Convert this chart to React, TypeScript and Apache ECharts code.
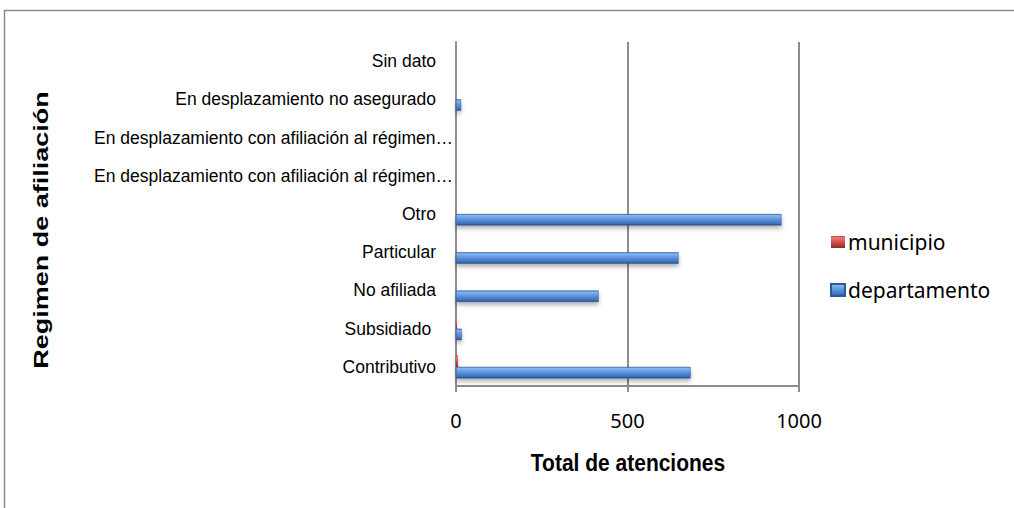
import React, { useEffect, useRef } from "react";
import * as echarts from "echarts";

const categories = [
  "Contributivo",
  "Subsidiado ",
  "No afiliada",
  "Particular",
  "Otro",
  "En desplazamiento con afiliación al régimen contributivo",
  "En desplazamiento con afiliación al régimen subsidiado",
  "En desplazamiento no asegurado",
  "Sin dato",
];
const municipio = [6, 3, 0, 0, 0, 0, 0, 0, 0];
const departamento = [684, 17, 416, 649, 949, 0, 0, 15, 0];
const xTicks = { min: 0, max: 1000, interval: 500 };
const legendNames = ["municipio", "departamento"];
const xTitle = "Total de atenciones";
const yTitle = "Regimen de afiliación";

const blueGrad = new echarts.graphic.LinearGradient(0, 0, 0, 1, [
  { offset: 0, color: "#3d6fb3" },
  { offset: 0.12, color: "#86b6f2" },
  { offset: 0.45, color: "#5e95de" },
  { offset: 0.85, color: "#3f72bb" },
  { offset: 1, color: "#25487e" },
]);
const redGrad = new echarts.graphic.LinearGradient(0, 0, 0, 1, [
  { offset: 0, color: "#b8403c" },
  { offset: 0.15, color: "#ee7a76" },
  { offset: 0.5, color: "#d0504c" },
  { offset: 1, color: "#8e2b28" },
]);

const LIMIT = 43;
function truncate(s: string): string {
  return s.length > LIMIT ? s.slice(0, LIMIT) + "…" : s;
}

export default function App() {
  const ref = useRef<HTMLDivElement>(null);
  useEffect(() => {
    if (!ref.current) return;
    const chart = echarts.init(ref.current, null, { renderer: "svg" });
    const labelFont = "'Liberation Sans', Arial, sans-serif";
    const yData = categories.map((c) =>
      c.length > LIMIT ? { value: c, textStyle: { padding: [0, -17, 0, 0] } } : c
    );
    chart.setOption({
      animation: false,
      backgroundColor: "#ffffff",
      grid: { left: 456, right: 215, top: 42, bottom: 122, containLabel: false },
      legend: {
        orient: "vertical",
        left: 825,
        top: 225,
        data: legendNames,
        icon: "rect",
        itemWidth: 14,
        itemHeight: 12,
        itemGap: 24,
        textStyle: {
          fontFamily: "'Noto Sans', sans-serif",
          fontSize: 21,
          color: "#000",
          lineHeight: 24,
          padding: [0, 0, 0, -2],
        },
      },
      xAxis: {
        type: "value",
        min: xTicks.min,
        max: xTicks.max,
        interval: xTicks.interval,
        axisLine: { show: true, lineStyle: { color: "#8c8c8c", width: 2 } },
        axisTick: { show: true, length: 6, lineStyle: { color: "#8c8c8c", width: 2 } },
        splitLine: { show: true, lineStyle: { color: "#8c8c8c", width: 2 } },
        axisLabel: {
          margin: 24,
          fontFamily: "'Noto Sans', sans-serif",
          fontSize: 20,
          color: "#000",
          formatter: (v: number) => String(v),
        },
      },
      yAxis: {
        type: "category",
        data: yData,
        axisLine: { show: true, lineStyle: { color: "#8c8c8c", width: 2 } },
        axisTick: { show: false },
        axisLabel: {
          margin: 20,
          fontFamily: labelFont,
          fontSize: 17.5,
          color: "#000",
          formatter: (v: string) => truncate(v),
        },
      },
      series: [
        {
          name: "municipio",
          type: "bar",
          data: municipio,
          barWidth: 11.5,
          barGap: "0%",
          itemStyle: {
            color: redGrad,
            shadowColor: "rgba(0,0,0,0.3)",
            shadowBlur: 4,
            shadowOffsetY: 3,
          },
        },
        {
          name: "departamento",
          type: "bar",
          data: departamento,
          barWidth: 11.5,
          barGap: "0%",
          itemStyle: {
            color: blueGrad,
            borderColor: "#2b5a98",
            borderWidth: 0.5,
            shadowColor: "rgba(0,0,0,0.3)",
            shadowBlur: 4,
            shadowOffsetY: 3,
          },
        },
      ],
      graphic: [
        {
          type: "line",
          shape: { x1: 4, y1: 10.5, x2: 1014, y2: 10.5 },
          style: { stroke: "#8a8a8a", lineWidth: 1.5 },
        },
        {
          type: "line",
          shape: { x1: 4.5, y1: 10, x2: 4.5, y2: 508 },
          style: { stroke: "#8a8a8a", lineWidth: 1.5 },
        },
        {
          type: "text",
          x: 628,
          y: 463,
          scaleY: 1.15,
          style: {
            text: xTitle,
            fontFamily: labelFont,
            fontWeight: "bold",
            fontSize: 21,
            fill: "#000",
            textAlign: "center",
            textVerticalAlign: "middle",
          },
        },
        {
          type: "text",
          x: 41,
          y: 230,
          rotation: Math.PI / 2,
          scaleX: 1.35,
          style: {
            text: yTitle,
            fontFamily: labelFont,
            fontWeight: "bold",
            fontSize: 20,
            fill: "#000",
            textAlign: "center",
            textVerticalAlign: "middle",
          },
        },
      ],
    });
    return () => chart.dispose();
  }, []);
  return (
    <div
      ref={ref}
      style={{ position: "fixed", left: 0, top: 0, width: 1014, height: 508 }}
    />
  );
}
